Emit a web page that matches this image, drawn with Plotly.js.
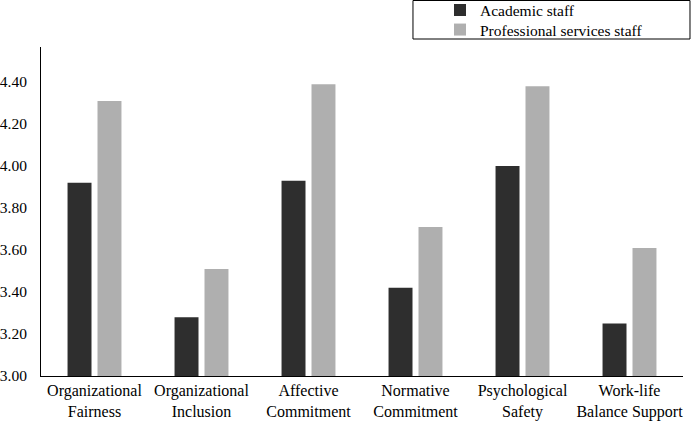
<!DOCTYPE html>
<html><head><meta charset="utf-8">
<script src="https://cdn.plot.ly/plotly-3.0.1.min.js"></script>
<style>html,body{margin:0;padding:0;background:#fff;}#chart{width:691px;height:421px;}</style>
</head><body><div id="chart"></div>
<script>
const categories = ["Organizational<br>Fairness","Organizational<br>Inclusion","Affective<br>Commitment","Normative<br>Commitment","Psychological<br>Safety","Work-life<br>Balance Support"];
const academic = [3.92, 3.28, 3.93, 3.42, 4.00, 3.25];
const professional = [4.31, 3.51, 4.39, 3.71, 4.38, 3.61];
const yTicks = [3.0, 3.2, 3.4, 3.6, 3.8, 4.0, 4.2, 4.4];

const font = {family: "Liberation Serif", size: 15.5, color: "#000"};
const xfont = {family: "Liberation Serif", size: 16, color: "#000"};
const data = [
  {type: "bar", name: "Academic staff", x: categories, y: academic, legend: "legend",
   marker: {color: "#2e2e2e", line: {width: 0}}},
  {type: "bar", name: "Professional services staff", x: categories, y: professional, legend: "legend2",
   marker: {color: "#afafaf", line: {width: 0}}}
];
const legendBase = {xanchor: "left", yanchor: "middle", bgcolor: "rgba(0,0,0,0)", borderwidth: 0,
                    font: font, itemwidth: 30};
const layout = {
  width: 691, height: 421,
  margin: {l: 41, r: 8, t: 47, b: 45, autoexpand: false},
  paper_bgcolor: "#fff", plot_bgcolor: "#fff",
  font: font,
  barmode: "group", bargap: 0.44, bargroupgap: 0.2,
  showlegend: true,
  legend: Object.assign({x: 0.6215, y: 1.111}, legendBase),
  legend2: Object.assign({x: 0.6215, y: 1.0517}, legendBase),
  xaxis: {showline: true, linecolor: "#000", linewidth: 1, ticks: "", showgrid: false,
          tickfont: xfont, fixedrange: true, automargin: false},
  yaxis: {range: [3, 4.567], showline: true, linecolor: "#000", linewidth: 1, ticks: "",
          showgrid: false, zeroline: false, tickvals: yTicks, ticklabelstandoff: 10, automargin: false,
          ticktext: yTicks.map(v => v.toFixed(2)), tickfont: font, fixedrange: true},
  shapes: [{type: "rect", xref: "paper", yref: "paper", x0: 0.5794, x1: 1.0109, y0: 1.0243, y1: 1.1413,
            line: {color: "#000", width: 1}, fillcolor: "rgba(0,0,0,0)"}]
};
Plotly.newPlot("chart", data, layout, {displayModeBar: false, staticPlot: true});
</script></body></html>
